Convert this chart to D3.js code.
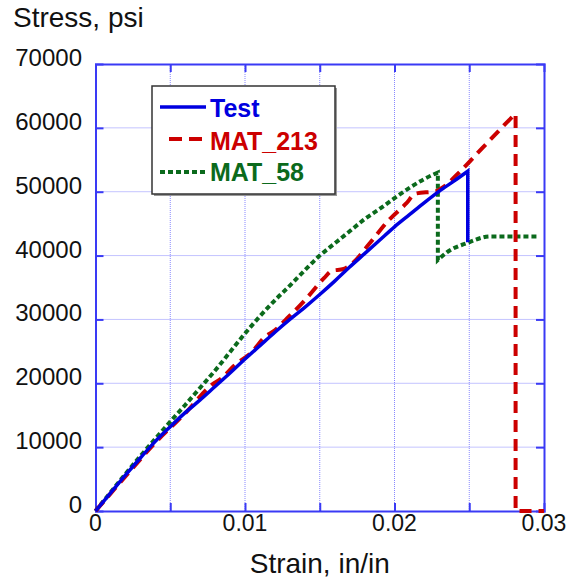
<!DOCTYPE html>
<html>
<head>
<meta charset="utf-8">
<style>
html, body { margin: 0; padding: 0; background: #fff; }
text { font-family: Arial, "Liberation Sans", sans-serif; }
</style>
<script src="https://cdn.jsdelivr.net/npm/d3@7/dist/d3.min.js"></script>
</head>
<body>
<script>
// strain (in/in), stress (psi)
var testData = [
  [0, 0], [0.001, 2800], [0.002, 5600], [0.003, 8300], [0.004, 10900],
  [0.005, 13200], [0.006, 15400], [0.007, 17400], [0.008, 19500], [0.009, 21600],
  [0.010, 23800], [0.011, 25900], [0.012, 28000], [0.013, 30000], [0.014, 31900],
  [0.015, 33900], [0.016, 36000], [0.017, 38200], [0.018, 40300], [0.019, 42400],
  [0.020, 44500], [0.021, 46400], [0.022, 48300], [0.023, 50100], [0.024, 51700],
  [0.0249, 53200], [0.0249, 42100]
];
var mat213Data = [
  [0, 0], [0.002, 5400], [0.004, 10700], [0.006, 15300], [0.0078, 19800],
  [0.0085, 20900], [0.0092, 22600], [0.0105, 25000], [0.0113, 27200], [0.012, 28300],
  [0.0127, 29900], [0.014, 33000], [0.0153, 36500], [0.0158, 37600], [0.0166, 37900],
  [0.0172, 38800], [0.0183, 41800], [0.0196, 45500], [0.0208, 48200], [0.0214, 49700],
  [0.0228, 50100], [0.0233, 50800], [0.0244, 53200], [0.0259, 56900], [0.0270, 59600],
  [0.0277, 61300], [0.0281, 62200], [0.0281, 0], [0.0300, 0]
];
var mat58Data = [
  [0, 0], [0.001, 2900], [0.002, 5800], [0.003, 8600], [0.004, 11300],
  [0.005, 14000], [0.006, 16600], [0.007, 19300], [0.008, 22000], [0.009, 24900],
  [0.010, 27800], [0.011, 30500], [0.012, 33000], [0.013, 35300], [0.014, 37700],
  [0.015, 40000], [0.016, 41900], [0.017, 43800], [0.018, 45700], [0.019, 47300],
  [0.020, 49000], [0.021, 50600], [0.022, 52000], [0.0229, 53000], [0.0229, 39300],
  [0.0235, 40500], [0.0249, 42000], [0.0264, 43000], [0.0296, 43000]
];
var seriesNames = ["Test", "MAT_213", "MAT_58"];
var xTickLabels = [0, 0.01, 0.02, 0.03];
var yTickLabels = [0, 10000, 20000, 30000, 40000, 50000, 60000, 70000];
var xGrid = [0.005, 0.01, 0.015, 0.02, 0.025];

var w = 575, h = 583;
var plotLeft = 95.5, plotRight = 544, plotTop = 64, plotBottom = 511;
var axisColor = "#3a3af5";
var gridColor = "#8888ff";

var svg = d3.select("body").append("svg")
  .attr("width", w)
  .attr("height", h);

var x = d3.scaleLinear().domain([0, 0.03]).range([plotLeft, plotRight]);
var y = d3.scaleLinear().domain([0, 70000]).range([plotBottom, plotTop]);

// grid
svg.selectAll("line.vgrid").data(xGrid).enter().append("line")
  .attr("x1", function(d) { return x(d); })
  .attr("x2", function(d) { return x(d); })
  .attr("y1", plotTop).attr("y2", plotBottom)
  .style("stroke", gridColor).style("stroke-width", 1)
  .style("stroke-dasharray", "1,1");
svg.selectAll("line.hgrid").data(yTickLabels.slice(1, -1)).enter().append("line")
  .attr("y1", function(d) { return y(d); })
  .attr("y2", function(d) { return y(d); })
  .attr("x1", plotLeft).attr("x2", plotRight)
  .style("stroke", gridColor).style("stroke-width", 1)
  .style("stroke-dasharray", "1,1");

// frame and ticks
var tickLen = 8;
var axisB = d3.axisBottom(x).tickValues(xGrid).tickSize(-tickLen).tickFormat("");
var axisT = d3.axisTop(x).tickValues(xGrid).tickSize(-tickLen).tickFormat("");
var axisL = d3.axisLeft(y).tickValues(yTickLabels.slice(1, -1)).tickSize(-tickLen).tickFormat("");
var axisR = d3.axisRight(y).tickValues(yTickLabels.slice(1, -1)).tickSize(-tickLen).tickFormat("");
[[axisB, "translate(0," + plotBottom + ")"], [axisT, "translate(0," + plotTop + ")"],
 [axisL, "translate(" + plotLeft + ",0)"], [axisR, "translate(" + plotRight + ",0)"]].forEach(function(a) {
  var g = svg.append("g").attr("transform", a[1]).call(a[0]);
  g.select(".domain").attr("stroke", axisColor).attr("stroke-width", 2);
  g.selectAll(".tick line").attr("stroke", axisColor).attr("stroke-width", 2);
});

// tick labels
svg.selectAll("text.xl").data(xTickLabels).enter().append("text")
  .attr("x", function(d) { return x(d); })
  .attr("y", 531)
  .attr("text-anchor", "middle")
  .style("font-size", "23px")
  .style("fill", "#111")
  .text(function(d) { return d === 0 ? "0" : d3.format(".2f")(d); });
svg.selectAll("text.yl").data(yTickLabels).enter().append("text")
  .attr("x", 82)
  .attr("y", function(d) { return y(d) + 2; })
  .attr("text-anchor", "end")
  .style("font-size", "24px")
  .style("fill", "#111")
  .text(function(d) { return d; });

// titles
svg.append("text").attr("x", 13).attr("y", 27)
  .style("font-size", "28px").style("fill", "#111").text("Stress, psi");
svg.append("text").attr("x", (plotLeft + plotRight) / 2).attr("y", 573)
  .attr("text-anchor", "middle")
  .style("font-size", "28px").style("fill", "#111").text("Strain, in/in");

// curves: smooth pieces, joined by straight vertical drops
var smooth = d3.line()
  .x(function(d) { return x(d[0]); })
  .y(function(d) { return y(d[1]); })
  .curve(d3.curveMonotoneX);

var curvePath = function(data) {
  var pieces = [[data[0]]];
  for (var i = 1; i < data.length; i++) {
    if (data[i][0] === data[i - 1][0]) pieces.push([]);
    pieces[pieces.length - 1].push(data[i]);
  }
  return pieces.map(function(p, k) {
    var d = p.length > 1 ? smooth(p) : "M" + x(p[0][0]) + "," + y(p[0][1]);
    return k === 0 ? d : "L" + d.slice(1);
  }).join("");
};

var styles = [
  { data: testData, color: "#0000e0", dash: null, width: 3.5 },
  { data: mat213Data, color: "#cc0000", dash: "12,7", width: 4 },
  { data: mat58Data, color: "#0b6a1c", dash: "5,3", width: 4 }
];

[2, 1, 0].forEach(function(i) {
  var s = styles[i];
  svg.append("path")
    .attr("d", curvePath(s.data))
    .style("fill", "none")
    .style("stroke", s.color)
    .style("stroke-width", s.width)
    .style("stroke-dasharray", s.dash);
});

// legend
svg.append("rect").attr("x", 154).attr("y", 88).attr("width", 183).attr("height", 108)
  .style("fill", "#999");
svg.append("rect").attr("x", 152).attr("y", 86).attr("width", 183).attr("height", 108)
  .style("fill", "#fff").style("stroke", "#333").style("stroke-width", 1.5);

var legY = [107, 139, 172];
var legBase = [117, 150, 181];
seriesNames.forEach(function(name, i) {
  var s = styles[i];
  svg.append("line")
    .attr("x1", i === 1 ? 169 : 160).attr("x2", 206)
    .attr("y1", legY[i]).attr("y2", legY[i])
    .style("stroke", s.color).style("stroke-width", s.width)
    .style("stroke-dasharray", i === 1 ? "13,7" : s.dash);
  svg.append("text")
    .attr("x", 210).attr("y", legBase[i])
    .style("font-size", "25px").style("font-weight", "bold")
    .style("fill", s.color)
    .text(name);
});
</script>
</body>
</html>
